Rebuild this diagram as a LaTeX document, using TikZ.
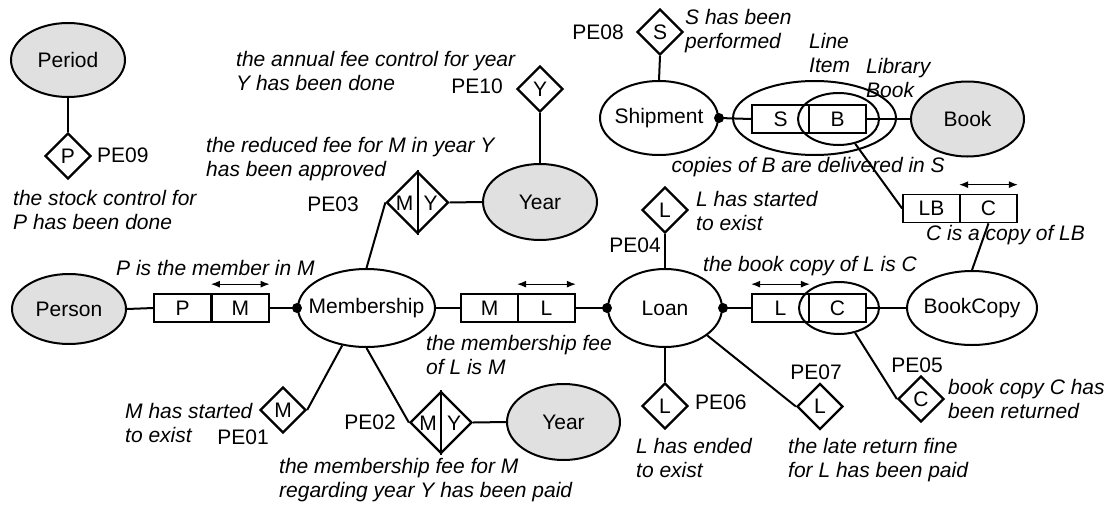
\documentclass[tikz,border=0pt]{standalone}
\usepackage{fontspec}
\setmainfont{Liberation Sans}
\usetikzlibrary{shapes.geometric,arrows.meta}
% zero-width box so that the ellipse size is set by its minimum size only
\newcommand{\ctr}[1]{\makebox[0pt]{#1}}
\definecolor{entfill}{RGB}{224,224,224}
\begin{document}
\begin{tikzpicture}[x=1pt,y=-1pt,
  font=\fontsize{21}{24}\selectfont,
  ent/.style={ellipse, draw, line width=2pt, inner sep=0pt, fill=entfill},
  ev/.style={ellipse, draw, line width=2pt, inner sep=0pt},
  pe/.style={diamond, aspect=1, draw, line width=2.3pt, minimum width=46pt, minimum height=46pt, inner sep=0pt},
  pedouble/.style={pe, minimum width=62pt, minimum height=62pt},
  cell/.style={rectangle, draw, line width=1.7pt, minimum width=57pt, minimum height=28pt, inner sep=0pt},
  dot/.style={circle, fill, inner sep=0pt, minimum size=10pt},
  note/.style={font=\fontsize{21}{24}\selectfont\itshape, align=left, inner sep=0pt},
  tag/.style={inner sep=0pt},
  conn/.style={line width=2pt},
  role/.style={{Latex[length=9pt,width=7pt]}-{Latex[length=9pt,width=7pt]}, line width=1.1pt}]
\useasboundingbox (0,0) rectangle (1110,506);

% ---------- Period ----------
\node[ent, minimum width=114pt, minimum height=74pt] (period) at (68,60) {\ctr{Period}};
\node[pe] (pe09) at (68,156) {P};
\node[tag, anchor=west] (pe09t) at (97,155) {PE09};
\node[note, anchor=west] (pe09n) at (13,210) {the stock control for\\P has been done};
\draw[conn] (period.south) -- (pe09.north);

% ---------- Year (top) ----------
\node[note, anchor=west] (pe10n) at (236,71) {the annual fee control for year\\Y has been done};
\node[tag, anchor=east] (pe10t) at (503,86) {PE10};
\node[pe] (pe10) at (540,89) {Y};
\node[ent, minimum width=114pt, minimum height=76pt] (yeartop) at (540,202) {\ctr{Year}};
\node[note, anchor=west] (pe03n) at (206,159) {the reduced fee for M in year Y\\has been approved};
\node[tag] (pe03t) at (333,204) {PE03};
\node[pedouble] (pe03) at (417.5,202.5) {};
\node[tag] (pe03m) at (404.5,203) {M};
\node[tag] (pe03y) at (430.5,203) {Y};
\draw[conn] (pe03.north) -- (pe03.south);
\draw[conn] (pe10.south) -- (yeartop.north);
\draw[conn] (pe03.east) -- (yeartop.west);

% ---------- Shipment / Line Item / Book ----------
\node[tag, anchor=east] (pe08t) at (624,32) {PE08};
\node[pe] (pe08) at (660,32) {S};
\node[note, anchor=west] (pe08n) at (685,31) {S has been\\performed};
\node[ev, minimum width=118pt, minimum height=74pt] (shipment) at (659,118) {\ctr{Shipment}};
\node[ev, minimum width=163pt, minimum height=74pt] (lineitem) at (814.5,118) {};
\node[cell] (sbs) at (780.5,119) {S};
\node[cell] (sbb) at (837.5,119) {B};
\node[ev, minimum width=81pt, minimum height=52pt] (libbook) at (838.5,119) {};
\node[ent, minimum width=113pt, minimum height=75pt] (book) at (967.5,119) {\ctr{Book}};
\node[note, anchor=west] (lineitemt) at (809,53) {Line\\Item};
\node[note, anchor=west] (libbookt) at (866,78) {Library\\Book};
\node[note, anchor=east] (sbn) at (945,167) {copies of B are delivered in S};
\node[dot] (shipdot) at (shipment.east) {};
\draw[conn] (pe08.south) -- (shipment.north);
\draw[conn] (shipment.east) -- (sbs.west);
\draw[conn] (sbb.east) -- (book.west);

% ---------- LB | C ----------
\node[cell] (lbclb) at (931.5,208.5) {LB};
\node[cell] (lbcc) at (988.5,208.5) {C};
\draw[role] ([yshift=9pt]lbcc.north west) -- ([yshift=9pt]lbcc.north east);
\node[note, anchor=west] (lbcn) at (926,235) {C is a copy of LB};
\draw[conn] (libbook.-56) -- (lbclb.west);

% ---------- main row ----------
\node[ent, minimum width=114pt, minimum height=70pt] (person) at (69,309) {\ctr{Person}};
\node[cell] (pmp) at (182.75,308) {P};
\node[cell] (pmm) at (240.25,308) {M};
\draw[role] ([yshift=9pt]pmm.north west) -- ([yshift=9pt]pmm.north east);
\node[note, anchor=west] (pmn) at (116,268) {P is the member in M};
\node[ev, minimum width=137pt, minimum height=78pt] (membership) at (366.5,308) {\ctr{Membership}};
\node[dot] (memdot) at (membership.west) {};
\node[cell] (mlm) at (489.5,308) {M};
\node[cell] (mll) at (546.5,308) {L};
\draw[role] ([yshift=9pt]mll.north west) -- ([yshift=9pt]mll.north east);
\node[note, anchor=west] (mln) at (426,355) {the membership fee\\of L is M};
\node[ev, minimum width=114pt, minimum height=78pt] (loan) at (665,308) {\ctr{Loan}};
\node[dot] (loandotw) at (loan.west) {};
\node[dot] (loandote) at (loan.east) {};
\node[cell] (lcl) at (780.5,308) {L};
\node[cell] (lcc) at (837.5,308) {C};
\draw[role] ([yshift=9pt]lcl.north west) -- ([yshift=9pt]lcl.north east);
\node[ev, minimum width=80pt, minimum height=52pt] (copyrole) at (839,308) {};
\node[note, anchor=west] (lcn) at (703,266) {the book copy of L is C};
\node[ev, minimum width=130pt, minimum height=74pt] (bookcopy) at (972,308) {\ctr{BookCopy}};

\draw[conn] (person.east) -- (pmp.west);
\draw[conn] (pmm.east) -- (membership.west);
\draw[conn] (membership.east) -- (mlm.west);
\draw[conn] (mll.east) -- (loan.west);
\draw[conn] (loan.east) -- (lcl.west);
\draw[conn] (lcc.east) -- (bookcopy.west);
\draw[conn] (lbcc.south) -- (bookcopy.north);
\draw[conn] (membership.north) -- (pe03.west);

% ---------- Loan events ----------
\node[pe] (pe04) at (665,210) {L};
\node[tag, anchor=east] (pe04t) at (661,245) {PE04};
\node[note, anchor=west] (pe04n) at (696,211) {L has started\\to exist};
\draw[conn] (pe04.south) -- (loan.north);

\node[pe] (pe06) at (665,406) {L};
\node[tag, anchor=west] (pe06t) at (695,402) {PE06};
\node[note, anchor=west] (pe06n) at (636,458) {L has ended\\to exist};
\draw[conn] (loan.south) -- (pe06.north);

\node[pe] (pe07) at (820,406.5) {L};
\node[tag] (pe07t) at (816,372) {PE07};
\node[note, anchor=west] (pe07n) at (788,460) {the late return fine\\for L has been paid};
\draw[conn] (loan.-33) -- (pe07.west);

\node[pe] (pe05) at (921,399) {C};
\node[tag] (pe05t) at (917,365) {PE05};
\node[note, anchor=west] (pe05n) at (948,399) {book copy C has\\been returned};
\draw[conn] (copyrole.-57) -- (pe05.west);

% ---------- Membership events ----------
\node[pe] (pe01) at (283,410) {M};
\node[tag] (pe01t) at (243,437) {PE01};
\node[note, anchor=west] (pe01n) at (125,423) {M has started\\to exist};
\draw[conn] (membership.-123) -- (pe01.east);

\node[pedouble] (pe02) at (441,422.5) {};
\node[tag] (pe02m) at (428,423) {M};
\node[tag] (pe02y) at (454,423) {Y};
\draw[conn] (pe02.north) -- (pe02.south);
\node[tag] (pe02t) at (370,422) {PE02};
\node[ent, minimum width=113pt, minimum height=76pt] (yearbottom) at (563.5,422) {\ctr{Year}};
\node[note, anchor=west] (pe02n) at (279,480) {the membership fee for M\\regarding year Y has been paid};
\draw[conn] (membership.south) -- (pe02.west);
\draw[conn] (pe02.east) -- (yearbottom.west);
\end{tikzpicture}
\end{document}
